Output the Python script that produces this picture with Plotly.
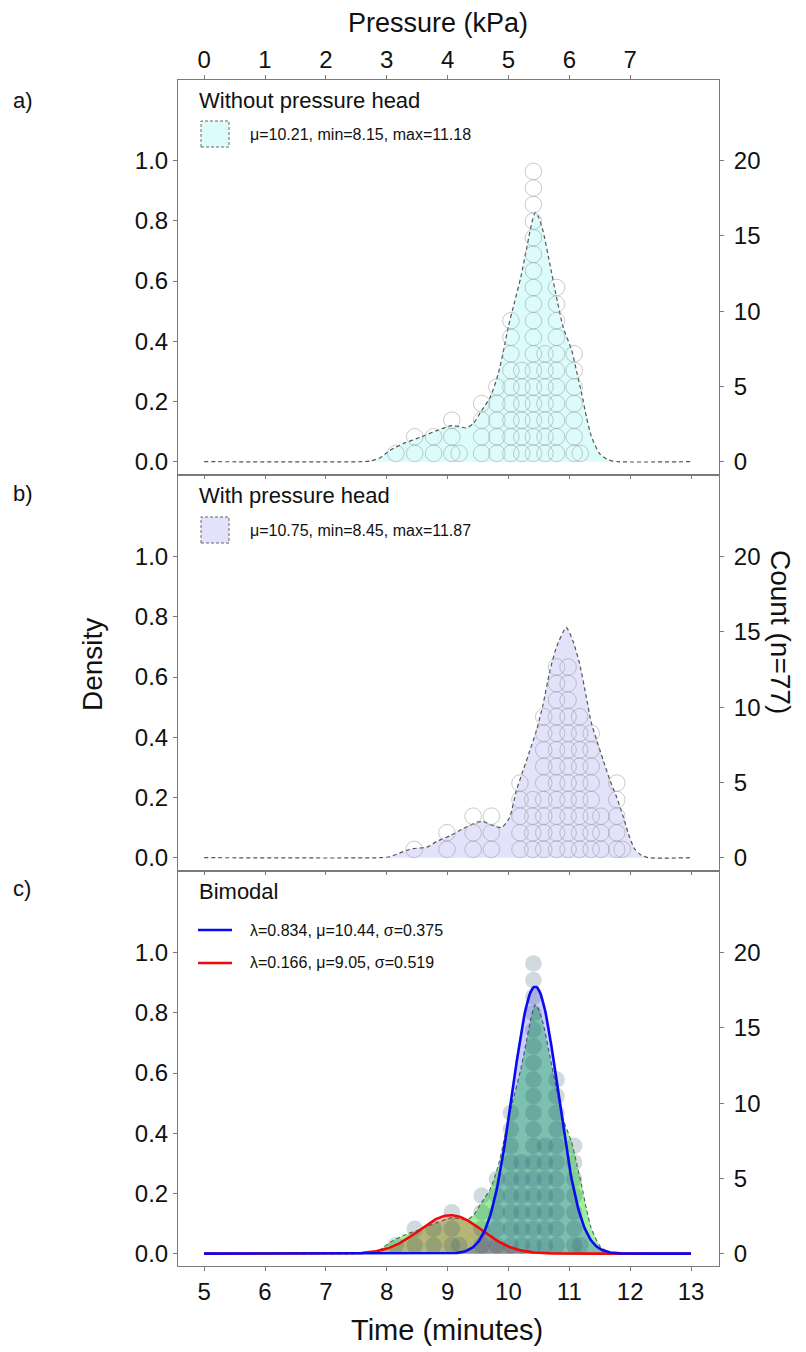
import numpy as np
import plotly.graph_objects as go

W, H = 806, 1352

# ---- dot columns: time (minutes) and number of stacked runs ----
free_times = [8.15, 8.46, 8.77, 9.07, 9.19, 9.56, 9.81, 10.04, 10.22, 10.41, 10.60, 10.79, 11.08, 11.18]
free_counts = [1, 2, 2, 3, 1, 4, 5, 9, 6, 18, 7, 11, 7, 1]

head_times = [8.45, 8.99, 9.42, 9.72, 10.19, 10.40, 10.58, 10.79, 10.98, 11.17, 11.36, 11.52, 11.78, 11.87]
head_counts = [1, 2, 3, 3, 5, 4, 9, 12, 12, 9, 8, 3, 5, 1]

# ---- kernel density curves ----
free_dens_t = [5.0, 7.6, 7.75, 7.9, 8.05, 8.27, 8.55, 8.82, 9.07, 9.2, 9.31, 9.42, 9.56, 9.7, 9.83,
               9.92, 10.0, 10.1, 10.2, 10.3, 10.38, 10.44, 10.5, 10.57, 10.68, 10.79, 10.9, 11.04,
               11.12, 11.2, 11.28, 11.36, 11.5, 11.64, 11.8, 13.0]
free_dens_y = [0, 0, 0.003, 0.014, 0.037, 0.06, 0.081, 0.103, 0.12, 0.116, 0.112, 0.126, 0.17, 0.214, 0.29,
               0.37, 0.45, 0.53, 0.61, 0.71, 0.79, 0.828, 0.81, 0.765, 0.657, 0.546, 0.446, 0.37,
               0.30, 0.23, 0.15, 0.085, 0.026, 0.006, 0, 0]

head_dens_t = [5.0, 7.9, 8.05, 8.27, 8.43, 8.66, 8.82, 9.04, 9.25, 9.48, 9.58, 9.75, 9.89, 10.02, 10.13,
               10.24, 10.35, 10.46, 10.57, 10.68, 10.79, 10.95, 11.06, 11.17, 11.28, 11.36, 11.45,
               11.56, 11.67, 11.78, 11.89, 11.97, 12.07, 12.17, 12.3, 13.0]
head_dens_y = [0, 0, 0.003, 0.02, 0.03, 0.035, 0.054, 0.073, 0.096, 0.117, 0.12, 0.106, 0.10, 0.134, 0.223,
               0.289, 0.355, 0.422, 0.51, 0.62, 0.70, 0.765, 0.72, 0.644, 0.533, 0.45, 0.39,
               0.322, 0.256, 0.2, 0.134, 0.08, 0.03, 0.01, 0, 0]

# ---- two-component normal mixture ----
mix_lambda = [0.834, 0.166]
mix_mu = [10.44, 9.05]
mix_sigma = [0.375, 0.519]

# ---- axis ticks ----
time_ticks = [5, 6, 7, 8, 9, 10, 11, 12, 13]
pressure_ticks = [0, 1, 2, 3, 4, 5, 6, 7]
density_ticks = [0.0, 0.2, 0.4, 0.6, 0.8, 1.0]
count_ticks = [0, 5, 10, 15, 20]

FONT = "Liberation Sans, Arial, sans-serif"
AXIS_GREY = "#7a7a7a"
DOT_STEP = 0.0551          # vertical spacing between stacked dots (density units)
DOT_SIZE = 16.6
TIME_RANGE = [4.57, 13.46]
DENS_RANGE = [-0.041, 1.268]
COUNT_RANGE = [v * 20 for v in DENS_RANGE]


def px(x):
    return x / W


def py(y):
    return 1 - y / H


def stack(times, counts):
    xs, ys = [], []
    for t, c in zip(times, counts):
        for k in range(c):
            xs.append(t)
            ys.append((k + 0.5) * DOT_STEP)
    return xs, ys


def normal_pdf(x, mu, sd):
    return np.exp(-0.5 * ((x - mu) / sd) ** 2) / (sd * np.sqrt(2 * np.pi))


fig = go.Figure()

# panel pixel bounds (top, bottom)
panels = [(80, 474), (476, 870), (872, 1266)]
x_names = ["x", "x2", "x3"]
y_names = ["y", "y3", "y5"]
y2_names = ["y2", "y4", "y6"]

dash_line = dict(color="#555555", width=1.2, dash="4px,3px")
ring = dict(size=DOT_SIZE, color="rgba(0,0,0,0)", line=dict(color="rgba(150,150,150,0.5)", width=1))

# panel a
fig.add_trace(go.Scatter(x=free_dens_t, y=free_dens_y, mode="lines",
                         line=dict(shape="spline", smoothing=0.6, **dash_line),
                         fill="tozeroy", fillcolor="#dcfcfc", xaxis="x", yaxis="y",
                         showlegend=False, hoverinfo="skip"))
fx, fy = stack(free_times, free_counts)
fig.add_trace(go.Scatter(x=fx, y=fy, mode="markers", xaxis="x", yaxis="y", showlegend=False, marker=ring))

# panel b
fig.add_trace(go.Scatter(x=head_dens_t, y=head_dens_y, mode="lines",
                         line=dict(shape="spline", smoothing=0.6, **dash_line),
                         fill="tozeroy", fillcolor="#e2e2fa", xaxis="x2", yaxis="y3",
                         showlegend=False, hoverinfo="skip"))
hx, hy = stack(head_times, head_counts)
fig.add_trace(go.Scatter(x=hx, y=hy, mode="markers", xaxis="x2", yaxis="y3", showlegend=False, marker=ring))

# panel c
fig.add_trace(go.Scatter(x=free_dens_t, y=free_dens_y, mode="lines",
                         line=dict(shape="spline", smoothing=0.6, color="#556655", width=1.1, dash="4px,3px"),
                         fill="tozeroy", fillcolor="rgb(156,240,156)", xaxis="x3", yaxis="y5",
                         showlegend=False, hoverinfo="skip"))
grid = np.linspace(5, 13, 401)
comp_colors = ["#0a0af0", "#f00a0a"]
comp_fills = ["rgba(0,0,255,0.2)", "rgba(255,0,0,0.24)"]
comp_curves = [lam * normal_pdf(grid, m, s) for lam, m, s in zip(mix_lambda, mix_mu, mix_sigma)]
for i in (1, 0):
    fig.add_trace(go.Scatter(x=grid, y=comp_curves[i], mode="lines", line=dict(width=0),
                             fill="tozeroy", fillcolor=comp_fills[i], xaxis="x3", yaxis="y5",
                             showlegend=False, hoverinfo="skip"))
fig.add_trace(go.Scatter(x=fx, y=fy, mode="markers", xaxis="x3", yaxis="y5", showlegend=False,
                         marker=dict(size=DOT_SIZE, color="rgba(45,85,110,0.22)", line=dict(width=0))))
for i in (1, 0):
    fig.add_trace(go.Scatter(x=grid, y=comp_curves[i], mode="lines", line=dict(color=comp_colors[i], width=2.6),
                             xaxis="x3", yaxis="y5", showlegend=False, hoverinfo="skip"))

# empty traces that carry the secondary axes
for xn, yn in zip(x_names, y2_names):
    fig.add_trace(go.Scatter(x=[None], y=[None], xaxis=xn, yaxis=yn, showlegend=False, hoverinfo="skip"))
fig.add_trace(go.Scatter(x=[None], y=[None], xaxis="x4", yaxis="y", showlegend=False, hoverinfo="skip"))

tick_font = dict(family=FONT, size=24, color="#111111")
common = dict(showline=True, mirror=False, linecolor=AXIS_GREY, linewidth=1, showgrid=False, zeroline=False,
              ticks="outside", ticklen=4, tickcolor=AXIS_GREY, tickfont=tick_font)

layout = dict(width=W, height=H, margin=dict(l=0, r=0, t=0, b=0), paper_bgcolor="white", plot_bgcolor="white",
              showlegend=False, font=dict(family=FONT))

for i, (top, bot) in enumerate(panels):
    xk = "xaxis" if i == 0 else f"xaxis{i + 1}"
    ykl = "yaxis" if i == 0 else f"yaxis{2 * i + 1}"
    ykr = f"yaxis{2 * i + 2}"
    dom_y = [py(bot), py(top)]
    layout[xk] = dict(common, domain=[px(178), px(719)], range=TIME_RANGE, anchor=y_names[i],
                      tickvals=time_ticks, showticklabels=(i == 2), mirror=True)
    layout[ykl] = dict(common, domain=dom_y, range=DENS_RANGE, anchor=x_names[i],
                       tickvals=density_ticks, ticktext=[f"{v:.1f}" for v in density_ticks], mirror=True)
    layout[ykr] = dict(common, range=COUNT_RANGE, overlaying=y_names[i], side="right", anchor=x_names[i],
                       tickvals=count_ticks, ticklabelstandoff=5)

layout["xaxis4"] = dict(common, range=[TIME_RANGE[0] - 5, TIME_RANGE[1] - 5], overlaying="x", side="top",
                        anchor="y", tickvals=pressure_ticks, ticklabelstandoff=-3)

annotations = []
shapes = []


def text(x, y, s, size, xanchor="center", angle=0, family=FONT):
    annotations.append(dict(x=px(x), y=py(y), xref="paper", yref="paper", text=s, showarrow=False,
                            xanchor=xanchor, yanchor="middle", textangle=angle,
                            font=dict(family=family, size=size, color="#111111")))


text(438, 23, "Pressure (kPa)", 27)
text(447, 1330, "Time (minutes)", 29)
text(92, 665, "Density", 28, angle=-90)
text(780, 632, "Count (n=77)", 28, angle=90)

text(11, 100, "a)", 22, xanchor="left")
text(11, 493, "b)", 22, xanchor="left")
text(11, 888, "c)", 22, xanchor="left")

text(197, 100, "Without pressure head", 22, xanchor="left")
text(197, 495, "With pressure head", 22, xanchor="left")
text(197, 891, "Bimodal", 22, xanchor="left")

# legend swatches
for (yc, fill, label) in [(134, "#dcfcfc", "μ=10.21, min=8.15, max=11.18"),
                          (530, "#e2e2fa", "μ=10.75, min=8.45, max=11.87")]:
    shapes.append(dict(type="rect", xref="paper", yref="paper", x0=px(201), x1=px(229),
                       y0=py(yc + 13), y1=py(yc - 13),
                       fillcolor=fill, line=dict(color="#666666", width=1, dash="3px,2px")))
    text(248, yc, label, 16, xanchor="left")

for (yc, color, lam, m, s) in [(930, comp_colors[0], mix_lambda[0], mix_mu[0], mix_sigma[0]),
                               (963, comp_colors[1], mix_lambda[1], mix_mu[1], mix_sigma[1])]:
    shapes.append(dict(type="line", xref="paper", yref="paper", x0=px(198), x1=px(232), y0=py(yc), y1=py(yc),
                       line=dict(color=color, width=2.6)))
    text(248, yc, f"λ={lam}, μ={m}, σ={s}", 16, xanchor="left")

layout["annotations"] = annotations
layout["shapes"] = shapes
fig.update_layout(**layout)

fig.write_html("out.html")
